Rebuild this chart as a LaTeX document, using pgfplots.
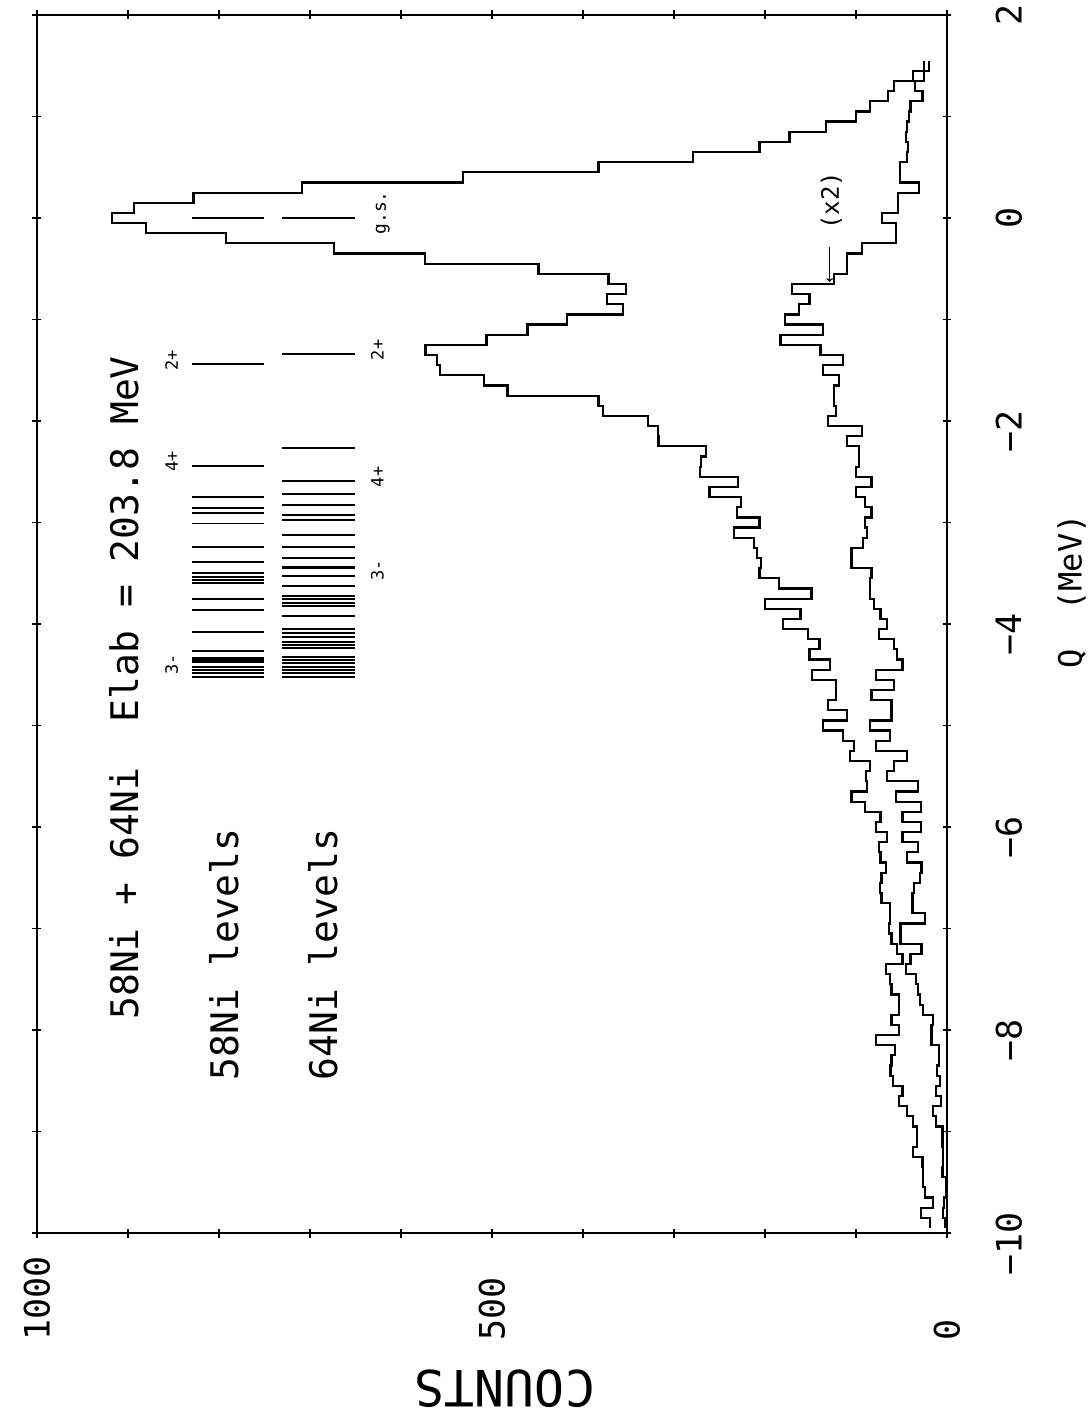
\documentclass[border=0pt]{standalone}
\usepackage{fontspec}
\usepackage{pgfplots}
\usepackage{pgfplotstable}
\pgfplotsset{compat=1.18}
\newfontfamily\plotfont{DejaVu Sans Mono}
\newcommand\fsz[1]{\fontsize{#1}{#1}\selectfont}

% main spectrum: Q = upper bin edge (MeV), C = counts
\pgfplotstableread{
Q C
1.55 25
1.45 37
1.35 58
1.25 65
1.15 85
1.05 100
0.95 133
0.85 173
0.75 206
0.65 279
0.55 383
0.45 532
0.35 709
0.25 828
0.15 893
0.05 918
-0.05 880
-0.15 792
-0.25 674
-0.35 574
-0.45 449
-0.55 372
-0.65 353
-0.75 374
-0.85 356
-0.95 418
-1.05 461
-1.15 506
-1.25 573
-1.35 560
-1.45 557
-1.55 509
-1.65 483
-1.75 383
-1.85 378
-1.95 329
-2.05 318
-2.15 317
-2.25 265
-2.35 270
-2.45 271
-2.55 230
-2.65 261
-2.75 226
-2.85 231
-2.95 206
-3.05 234
-3.15 212
-3.25 209
-3.35 204
-3.45 206
-3.55 185
-3.65 149
-3.75 200
-3.85 161
-3.95 180
-4.05 153
-4.15 140
-4.25 151
-4.35 129
-4.45 148
-4.55 122
-4.65 122
-4.75 131
-4.85 110
-4.95 136
-5.05 114
-5.15 102
-5.25 107
-5.35 85
-5.45 89
-5.55 88
-5.65 105
-5.75 90
-5.85 73
-5.95 78
-6.05 66
-6.15 75
-6.25 73
-6.35 67
-6.45 72
-6.55 74
-6.65 72
-6.75 63
-6.85 63
-6.95 64
-7.05 61
-7.15 55
-7.25 49
-7.35 67
-7.45 63
-7.55 61
-7.65 53
-7.75 53
-7.85 61
-7.95 53
-8.05 78
-8.15 57
-8.25 61
-8.35 62
-8.45 59
-8.55 49
-8.65 53
-8.75 44
-8.85 37
-8.95 33
-9.05 33
-9.15 37
-9.25 27
-9.35 26
-9.45 26
-9.55 24
-9.65 15
-9.75 29
-9.85 19
-9.95 19
}\mainhist

% (x2) spectrum
\pgfplotstableread{
Q C
1.55 20
1.45 25
1.35 35
1.25 27
1.15 40
1.05 42
0.95 44
0.85 45
0.75 43
0.65 44
0.55 52
0.45 52
0.35 31
0.25 54
0.15 54
0.05 71
-0.05 56
-0.15 56
-0.25 93
-0.35 110
-0.45 110
-0.55 124
-0.65 170
-0.75 151
-0.85 163
-0.95 178
-1.05 136
-1.15 183
-1.25 139
-1.35 114
-1.45 136
-1.55 119
-1.65 124
-1.75 124
-1.85 122
-1.95 131
-2.05 93
-2.15 110
-2.25 97
-2.35 97
-2.45 100
-2.55 83
-2.65 100
-2.75 90
-2.85 83
-2.95 90
-3.05 88
-3.15 92
-3.25 105
-3.35 105
-3.45 83
-3.55 85
-3.65 85
-3.75 80
-3.85 73
-3.95 66
-4.05 75
-4.15 58
-4.25 55
-4.35 49
-4.45 78
-4.55 58
-4.65 83
-4.75 61
-4.85 61
-4.95 85
-5.05 63
-5.15 78
-5.25 44
-5.35 58
-5.45 66
-5.55 32
-5.65 56
-5.75 29
-5.85 49
-5.95 29
-6.05 49
-6.15 32
-6.25 44
-6.35 28
-6.45 30
-6.55 36
-6.65 38
-6.75 38
-6.85 24
-6.95 51
-7.05 51
-7.15 28
-7.25 40
-7.35 45
-7.45 34
-7.55 32
-7.65 30
-7.75 26
-7.85 15
-7.95 17
-8.05 17
-8.15 9
-8.25 9
-8.35 11
-8.45 8
-8.55 12
-8.65 7
-8.75 15
-8.85 12
-8.95 5
-9.05 5
-9.15 4
-9.25 4
-9.35 5
-9.45 1
-9.55 1
-9.65 3
-9.75 4
-9.85 2
-9.95 2
}\xtwohist

% 58Ni levels (Q = -Ex)
\pgfplotstableread{
Q
0
-1.44
-2.44
-2.75
-2.86
-2.91
-3.01
-3.24
-3.39
-3.495
-3.534
-3.567
-3.593
-3.75
-3.86
-4.08
-4.263
-4.338
-4.355
-4.374
-4.42
-4.453
-4.486
-4.519
}\levelsA

% 64Ni levels
\pgfplotstableread{
Q
0
-1.34
-2.27
-2.588
-2.719
-2.828
-2.926
-2.975
-3.123
-3.238
-3.353
-3.435
-3.451
-3.527
-3.626
-3.724
-3.757
-3.79
-3.823
-3.921
-4.053
-4.092
-4.131
-4.174
-4.207
-4.24
-4.322
-4.355
-4.387
-4.421
-4.453
-4.486
-4.519
}\levelsB

\begin{document}
\begin{tikzpicture}
\begin{axis}[
  scale only axis, width=910pt, height=1218pt,
  x dir=reverse,
  xmin=0, xmax=1000, ymin=-10, ymax=2,
  xtick={0,500,1000}, xticklabels={0,500,1000},
  minor xtick={100,200,300,400,600,700,800,900},
  ytick={-10,-8,-6,-4,-2,0,2},
  yticklabels={\llap{−}10,\llap{−}8,\llap{−}6,\llap{−}4,\llap{−}2,0,2},
  minor ytick={-9,-7,-5,-3,-1,1},
  xticklabel pos=lower, yticklabel pos=right,
  xtick pos=both, ytick pos=both,
  tick align=center,
  major tick length=9pt, minor tick length=9pt,
  every tick/.style={black, line width=1.4pt},
  axis line style={line width=2pt, black},
  tick label style={font=\plotfont\fsz{35}, inner sep=0pt},
  xticklabel style={rotate=90, anchor=west},
  xticklabel shift=103pt,
  yticklabel style={rotate=90, anchor=north},
  yticklabel shift=44pt,
  clip=false,
  every axis x label/.style={at={(axis cs:486,-11.35)}, rotate=180, anchor=base, font=\plotfont\fsz{50}, inner sep=0pt},
  every axis y label/.style={at={(axis cs:-148,-3.68)}, rotate=90, anchor=base, font=\plotfont\fsz{32}, inner sep=0pt},
  xlabel={COUNTS}, ylabel={Q\ \ (MeV)},
]
\addplot[black, line width=2.2pt, const plot mark right] table[x=C, y=Q] {\mainhist};
\addplot[black, line width=2.2pt, const plot mark right] table[x=C, y=Q] {\xtwohist};

\addplot[draw=none, mark=none, forget plot,
  error bars/.cd, x dir=both, x explicit, error mark=none,
  error bar style={draw=black, line width=1.8pt}]
  table[x expr=790.5, x error expr=39.5, y=Q] {\levelsA};
\addplot[draw=none, mark=none, forget plot,
  error bars/.cd, x dir=both, x explicit, error mark=none,
  error bar style={draw=black, line width=1.8pt}]
  table[x expr=690.5, x error expr=40.5, y=Q] {\levelsB};

\node[rotate=90, anchor=base west, font=\plotfont\fsz{38}, inner sep=0pt] at (axis cs:888,-7.90) {58Ni + 64Ni\ \ Elab = 203.8 MeV};
\node[rotate=90, anchor=base west, font=\plotfont\fsz{38}, inner sep=0pt] at (axis cs:779,-8.50) {58Ni levels};
\node[rotate=90, anchor=base west, font=\plotfont\fsz{38}, inner sep=0pt] at (axis cs:670,-8.50) {64Ni levels};

\node[rotate=90, font=\plotfont\fsz{17}, inner sep=0pt] at (axis cs:852,-1.40) {2+};
\node[rotate=90, font=\plotfont\fsz{17}, inner sep=0pt] at (axis cs:852,-2.40) {4+};
\node[rotate=90, font=\plotfont\fsz{17}, inner sep=0pt] at (axis cs:852,-4.40) {3-};
\node[rotate=90, font=\plotfont\fsz{17}, inner sep=0pt] at (axis cs:626,-1.30) {2+};
\node[rotate=90, font=\plotfont\fsz{17}, inner sep=0pt] at (axis cs:626,-2.55) {4+};
\node[rotate=90, font=\plotfont\fsz{17}, inner sep=0pt] at (axis cs:626,-3.47) {3-};
\node[rotate=90, font=\plotfont\fsz{18}, inner sep=0pt] at (axis cs:620,0.05) {g.s.};

\node[rotate=90, font=\plotfont\fsz{24}, inner sep=0pt] at (axis cs:127,0.17) {(x2)};
\draw[->, line width=1.4pt] (axis cs:129,-0.29) -- (axis cs:129,-0.63);
\end{axis}
\path ([shift={(-37pt,-175pt)}]current axis.south west) rectangle ([shift={(143pt,15pt)}]current axis.north east);
\end{tikzpicture}
\end{document}
